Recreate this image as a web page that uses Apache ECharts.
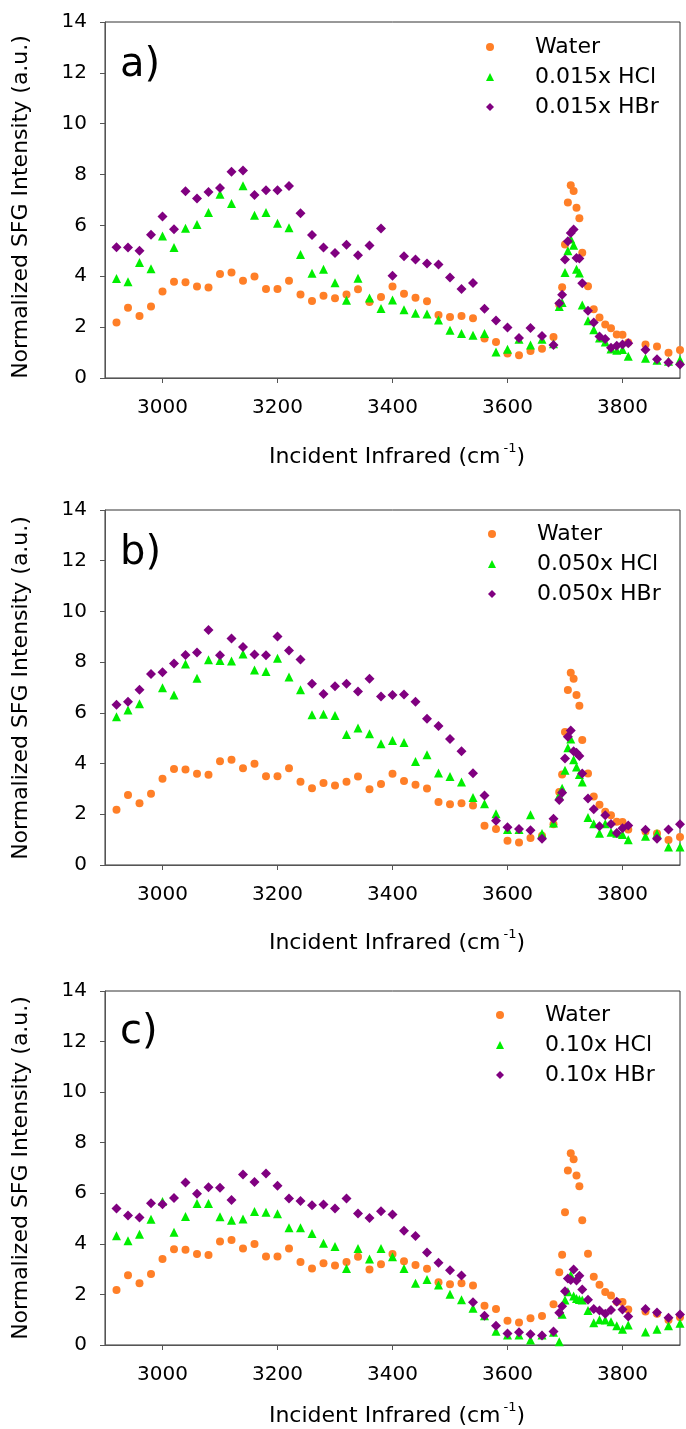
<!DOCTYPE html>
<html>
<head>
<meta charset="utf-8">
<script src="https://cdn.jsdelivr.net/npm/echarts@6/dist/echarts.min.js"></script>
<style>
html,body{margin:0;padding:0;background:#fff;}
#chart{width:686px;height:1429px;}
</style>
</head>
<body>
<div id="chart"></div>
<script>
// ---------- DATA ----------
const wavenumbers = [2920,2940,2960,2980,3000,3020,3040,3060,3080,3100,3120,3140,3160,3180,3200,3220,3240,3260,3280,3300,3320,3340,3360,3380,3400,3420,3440,3460,3480,3500,3520,3540,3560,3580,3600,3620,3640,3660,3680,3690,3695,3700,3705,3710,3715,3720,3725,3730,3740,3750,3760,3770,3780,3790,3800,3810,3840,3860,3880,3900];

const water = [2.18,2.76,2.44,2.81,3.40,3.79,3.77,3.60,3.56,4.09,4.15,3.82,3.99,3.50,3.50,3.82,3.28,3.03,3.23,3.14,3.28,3.49,2.99,3.19,3.60,3.31,3.16,3.02,2.48,2.40,2.44,2.35,1.55,1.42,0.96,0.89,1.06,1.15,1.61,
  2.88,3.57,5.25,6.90,7.58,7.35,6.70,6.28,4.93,
  3.61,2.70,2.38,2.10,1.96,1.71,1.70,1.40,
  1.32,1.24,0.99,1.10];

const hcl015 = [3.91,3.79,4.54,4.30,5.58,5.13,5.89,6.04,6.51,7.23,6.86,7.56,6.40,6.51,6.09,5.91,4.86,4.12,4.28,3.75,3.06,3.92,3.15,2.73,3.07,2.68,2.55,2.52,2.28,1.88,1.75,1.68,1.75,1.02,1.13,1.52,1.30,1.52,1.35,
  2.81,2.97,4.15,5.00,5.47,5.22,4.28,4.13,2.87,
  2.25,1.90,1.57,1.42,1.14,1.09,1.12,0.86,
  0.78,0.70,0.66,0.72];

const hbr015 = [5.14,5.13,5.00,5.63,6.35,5.85,7.34,7.06,7.31,7.47,8.11,8.16,7.20,7.38,7.38,7.55,6.48,5.62,5.13,4.92,5.24,4.83,5.21,5.88,4.02,4.79,4.66,4.50,4.46,3.95,3.50,3.74,2.72,2.26,1.99,1.57,1.97,1.65,1.30,
  2.94,3.27,4.66,5.38,5.70,5.84,4.72,4.70,3.73,
  2.64,2.18,1.63,1.53,1.19,1.27,1.32,1.37,
  1.11,0.74,0.61,0.53];

const hcl050 = [5.85,6.11,6.36,null,6.99,6.70,7.93,7.36,8.09,8.06,8.05,8.32,7.69,7.63,8.15,7.41,6.91,5.93,5.95,5.90,5.15,5.40,5.18,4.78,4.91,4.83,4.08,4.35,3.63,3.49,3.27,2.66,2.42,2.02,1.40,1.40,1.98,1.24,1.66,
  2.75,3.03,3.74,4.62,4.97,4.15,3.86,3.57,3.27,
  1.87,1.63,1.25,1.63,1.29,1.25,1.20,1.00,
  1.13,1.24,0.71,0.71];

const hbr050 = [6.32,6.44,6.91,7.53,7.60,7.95,8.28,8.38,9.27,8.27,8.93,8.60,8.30,8.27,9.01,8.46,8.10,7.15,6.74,7.05,7.15,6.84,7.35,6.65,6.70,6.72,6.44,5.77,5.48,4.97,4.49,3.62,2.74,1.75,1.49,1.42,1.37,1.04,1.82,
  2.56,2.85,4.20,5.06,5.30,4.49,4.43,4.30,3.61,
  2.62,2.20,1.53,1.96,1.62,1.26,1.45,1.56,
  1.39,1.04,1.40,1.61];

const hcl010 = [4.32,4.12,4.38,4.97,5.68,4.46,5.08,5.60,5.60,5.07,4.93,4.98,5.28,5.25,5.19,4.64,4.64,4.41,4.02,3.90,3.03,3.82,3.40,3.82,3.49,3.03,2.44,2.59,2.37,2.01,1.79,1.45,1.16,0.54,0.40,0.40,0.20,0.40,0.50,
  0.13,1.22,1.78,2.11,2.77,1.94,1.84,1.80,1.78,
  1.36,0.88,1.00,0.99,0.92,0.76,0.62,0.79,
  0.51,0.62,0.76,0.86];

const hbr010 = [5.40,5.12,5.04,5.61,5.57,5.81,6.43,5.98,6.24,6.22,5.73,6.74,6.45,6.78,6.30,5.79,5.69,5.53,5.56,5.40,5.79,5.20,5.02,5.29,5.16,4.52,4.31,3.66,3.25,2.96,2.75,1.69,1.16,0.76,0.45,0.50,0.43,0.38,0.53,
  1.28,1.53,2.13,2.63,2.57,2.99,2.55,2.74,2.19,
  1.79,1.42,1.36,1.24,1.38,1.71,1.40,1.13,
  1.42,1.29,1.08,1.21];

const xTicks = [3000,3200,3400,3600,3800];
const panelLabels = ['a)','b)','c)'];
const hclNames = ['0.015x HCl','0.050x HCl','0.10x HCl'];
const hbrNames = ['0.015x HBr','0.050x HBr','0.10x HBr'];
const xTitle = 'Incident Infrared (cm';
const xTitleSup = '-1';
const yTitle = 'Normalized SFG Intensity (a.u.)';

// ---------- LAYOUT ----------
const FONT = 'DejaVu Sans';
const panels = [
  {top:22,  height:356, legendLeft:486, legendTop:36,  labelY:66,   xTitleY:455,  yTitleY:207},
  {top:510, height:355, legendLeft:488, legendTop:523, labelY:554,  xTitleY:941,  yTitleY:688},
  {top:991, height:354, legendLeft:496, legendTop:1004,labelY:1033, xTitleY:1414, yTitleY:1168}
];
const COLORS = {water:'#ff7f27', hcl:'#00ee00', hbr:'#800080'};

function pairs(arr){
  const out = [];
  for (let i=0;i<wavenumbers.length;i++){
    if (arr[i] !== null && arr[i] !== undefined) out.push([wavenumbers[i], arr[i]]);
  }
  return out;
}

const hclSets = [hcl015, hcl050, hcl010];
const hbrSets = [hbr015, hbr050, hbr010];

const grid = [], xAxis = [], yAxis = [], series = [], legend = [], graphic = [];

panels.forEach((p, i) => {
  grid.push({left:105, right:6, top:p.top, height:p.height, show:true,
    borderColor:'#333', borderWidth:1, backgroundColor:'transparent', containLabel:false});
  xAxis.push({
    type:'value', gridIndex:i, min:2900, max:3900,
    axisLine:{show:true, onZero:false, lineStyle:{color:'#555', width:1}},
    axisTick:{show:true, inside:false, length:5, customValues:xTicks, lineStyle:{color:'#555'}},
    axisLabel:{show:true, customValues:xTicks, fontFamily:FONT, fontSize:20, color:'#000', margin:20,
      formatter:function(v){ return String(v); }},
    splitLine:{show:false}
  });
  yAxis.push({
    type:'value', gridIndex:i, min:0, max:14, interval:2,
    axisLine:{show:true, onZero:false, lineStyle:{color:'#555', width:1}},
    axisTick:{show:true, inside:false, length:5, lineStyle:{color:'#555'}},
    axisLabel:{fontFamily:FONT, fontSize:20, color:'#000', margin:18},
    splitLine:{show:false}
  });
  series.push({
    name:'Water', type:'scatter', xAxisIndex:i, yAxisIndex:i,
    symbol:'circle', symbolSize:8, symbolKeepAspect:true,
    itemStyle:{color:COLORS.water, opacity:1},
    data:pairs(water)
  });
  series.push({
    name:hclNames[i], type:'scatter', xAxisIndex:i, yAxisIndex:i,
    symbol:'triangle', symbolSize:9, symbolKeepAspect:true,
    itemStyle:{color:COLORS.hcl, opacity:1},
    data:pairs(hclSets[i])
  });
  series.push({
    name:hbrNames[i], type:'scatter', xAxisIndex:i, yAxisIndex:i,
    symbol:'diamond', symbolSize:10, symbolKeepAspect:true,
    itemStyle:{color:COLORS.hbr, opacity:1},
    data:pairs(hbrSets[i])
  });
  legend.push({
    orient:'vertical', left:p.legendLeft, top:p.legendTop,
    data:[
      {name:'Water', icon:'circle'},
      {name:hclNames[i], icon:'triangle'},
      {name:hbrNames[i], icon:'diamond'}
    ],
    itemWidth:8, itemHeight:8, itemGap:8, padding:0,
    selectedMode:false,
    formatter:function(name){ return '{t|' + name + '}'; },
    textStyle:{fontFamily:FONT, fontSize:22, color:'#000', lineHeight:22,
      rich:{t:{fontFamily:FONT, fontSize:22, color:'#000', lineHeight:22, padding:[0,0,0,36]}}}
  });
  graphic.push({
    type:'text', x:120, y:p.labelY,
    style:{text:panelLabels[i], fontFamily:FONT, fontSize:40, fill:'#000',
      align:'left', verticalAlign:'middle', textAlign:'left', textVerticalAlign:'middle'}
  });
  graphic.push({
    type:'text', x:397, y:p.xTitleY,
    style:{
      text:'{n|' + xTitle + '}{s|' + xTitleSup + '}{n|)}',
      align:'center', verticalAlign:'middle', textAlign:'center', textVerticalAlign:'middle',
      fill:'#000',
      rich:{
        n:{fontFamily:FONT, fontSize:22, lineHeight:26, fill:'#000', verticalAlign:'bottom'},
        s:{fontFamily:FONT, fontSize:13, lineHeight:13, fill:'#000', verticalAlign:'top', padding:[0,0,0,3]}
      }
    }
  });
  graphic.push({
    type:'text', x:21, y:p.yTitleY, rotation:Math.PI/2,
    style:{text:yTitle, fontFamily:FONT, fontSize:22, fill:'#000',
      align:'center', verticalAlign:'middle', textAlign:'center', textVerticalAlign:'middle'}
  });
});

const chart = echarts.init(document.getElementById('chart'), null, {renderer:'canvas'});
chart.setOption({
  animation:false,
  backgroundColor:'#fff',
  grid, xAxis, yAxis, series, legend, graphic
});
</script>
</body>
</html>
